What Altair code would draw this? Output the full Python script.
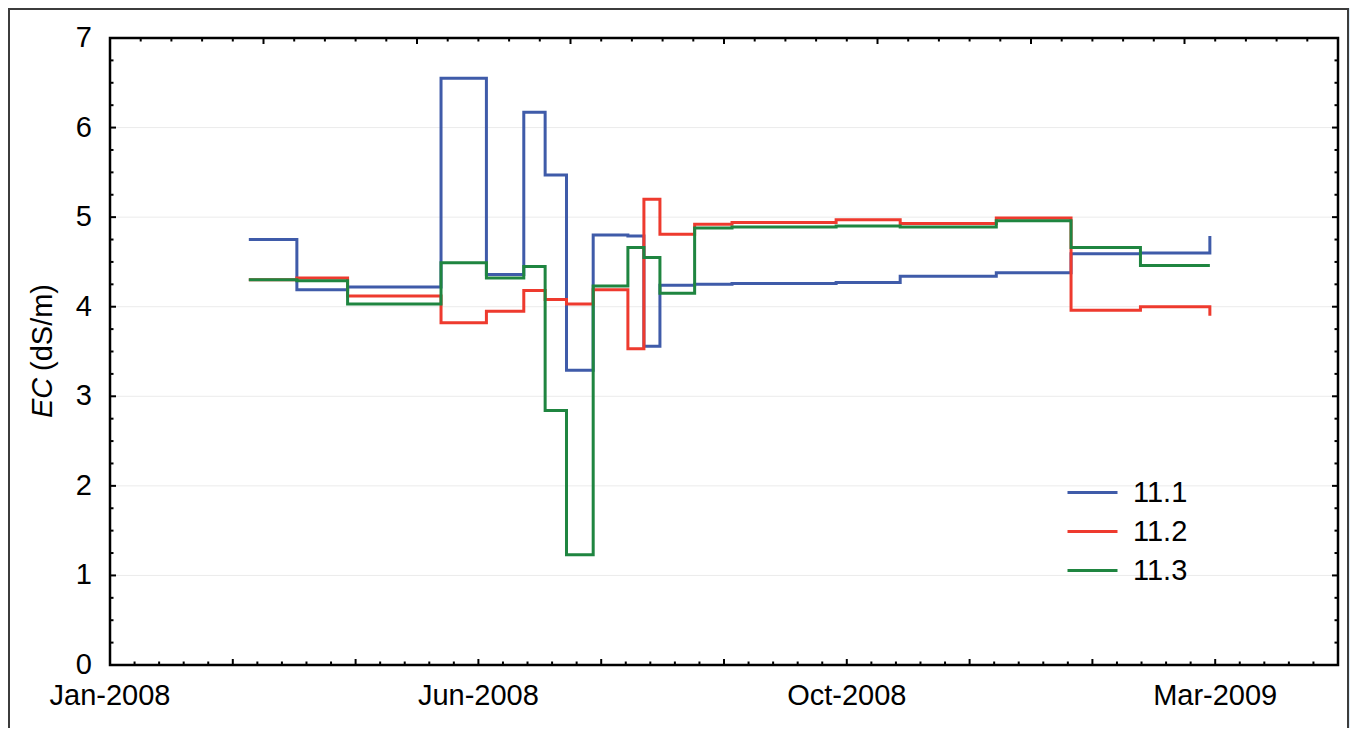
import altair as alt
import pandas as pd
import numpy as np

# ---- data ----
dates = ["2008-03-07", "2008-03-25", "2008-04-13", "2008-05-18", "2008-06-04",
         "2008-06-18", "2008-06-26", "2008-07-04", "2008-07-14", "2008-07-27",
         "2008-08-02", "2008-08-08", "2008-08-21", "2008-09-04", "2008-10-13",
         "2008-11-06", "2008-12-12", "2009-01-09", "2009-02-04", "2009-03-02"]
ec_11_1 = [4.75, 4.19, 4.22, 6.55, 4.36, 6.17, 5.47, 3.29, 4.80, 4.79,
           3.56, 4.24, 4.25, 4.26, 4.27, 4.34, 4.38, 4.59, 4.60, 4.79]
ec_11_2 = [4.30, 4.32, 4.12, 3.82, 3.95, 4.18, 4.08, 4.03, 4.19, 3.53,
           5.20, 4.81, 4.92, 4.94, 4.97, 4.93, 4.99, 3.96, 4.00, 3.90]
ec_11_3 = [4.30, 4.29, 4.03, 4.49, 4.32, 4.45, 2.84, 1.23, 4.23, 4.66,
           4.55, 4.15, 4.88, 4.89, 4.90, 4.89, 4.96, 4.66, 4.46, 4.46]
series = ["11.1", "11.2", "11.3"]
colors = ["#3f5ba9", "#ee3a2e", "#1f8540"]
y_title_italic = "EC"
y_title_rest = "(dS/m)"

# ---- axis structure ----
DAY = 86400000
d0 = int(pd.Timestamp("2008-01-15").value // 10**6)
major_x = 46 * DAY            # 10 major intervals on the bottom axis
d1 = d0 + 10 * major_x
label_vals = [d0 + k * major_x for k in (0, 3, 6, 9)]
bot_major = [d0 + k * major_x for k in range(11)]
bot_minor = [d0 + k * major_x / 5 for k in range(51) if k % 5]
top_step = (d1 - d0) / 8
top_major = [d0 + k * top_step for k in range(9)]
top_minor = [d0 + k * top_step / 5 for k in range(41) if k % 5]
y_major = list(range(8))
y_minor = [v / 4 for v in range(29) if v % 4]

W, H = 1228, 627
FONT = "Liberation Sans"
FS = 29

rows = []
for name, vals in zip(series, [ec_11_1, ec_11_2, ec_11_3]):
    for d, v in zip(dates, vals):
        rows.append({"date": d, "ec": v, "series": name})
df = pd.DataFrame(rows)

xs = alt.Scale(type="utc", domain=[d0, d1], nice=False)
ys = alt.Scale(domain=[0, 7], nice=False, zero=False)

one = pd.DataFrame({"a": [0]})

panel = alt.Chart(one).mark_rect(fill="white", stroke="#3c3c3c", strokeWidth=2).encode(
    x=alt.value(-101), x2=alt.value(1238), y=alt.value(-29), y2=alt.value(720))

grid = alt.Chart(pd.DataFrame({"v": list(range(1, 7))})).mark_rule(
    color="#ebebeb", strokeWidth=1).encode(
    y=alt.Y("v:Q", scale=ys, axis=None), x=alt.value(0), x2=alt.value(W))

lines = alt.Chart(df).mark_line(interpolate="step-after", strokeWidth=3).encode(
    x=alt.X("date:T", scale=xs, axis=None),
    y=alt.Y("ec:Q", scale=ys, axis=None),
    color=alt.Color("series:N", scale=alt.Scale(domain=series, range=colors),
                    legend=alt.Legend(title=None, orient="none", legendX=968, legendY=440,
                                      symbolType="M-2,0H2", symbolSize=625,
                                      symbolStrokeWidth=3, labelFontSize=FS,
                                      labelFont=FONT, labelColor="black",
                                      rowPadding=9, labelOffset=26, padding=0,
                                      zindex=1)),
)

# tick labels, placed through the scales
xlab = alt.Chart(pd.DataFrame({"t": label_vals})).mark_text(
    fontSize=FS, font=FONT, color="black", align="center", baseline="top").encode(
    x=alt.X("t:T", scale=xs, axis=None),
    text=alt.Text("t:T", format="%b-%Y"),
    y=alt.value(H + 17))
ylab = alt.Chart(pd.DataFrame({"v": y_major})).mark_text(
    fontSize=FS, font=FONT, color="black", align="right", baseline="middle").encode(
    y=alt.Y("v:Q", scale=ys, axis=None),
    text=alt.Text("v:Q", format="d"),
    x=alt.value(-18))


def xticks(vals, top, length):
    d = pd.DataFrame({"t": vals})
    y = alt.value(0) if top else alt.value(H)
    y2 = alt.value(length) if top else alt.value(H - length)
    return alt.Chart(d).mark_rule(color="black", strokeWidth=2).encode(
        x=alt.X("t:T", scale=xs, axis=None), y=y, y2=y2)


def yticks(vals, right, length):
    d = pd.DataFrame({"v": vals})
    x = alt.value(W) if right else alt.value(0)
    x2 = alt.value(W - length) if right else alt.value(length)
    return alt.Chart(d).mark_rule(color="black", strokeWidth=2).encode(
        y=alt.Y("v:Q", scale=ys, axis=None), x=x, x2=x2)


ticks = [xticks(bot_major, False, 6), xticks(bot_minor, False, 3.5),
         xticks(top_major, True, 6), xticks(top_minor, True, 3.5),
         yticks(y_major, False, 6), yticks(y_minor, False, 3.5),
         yticks(y_major, True, 6), yticks(y_minor, True, 3.5)]

border = alt.Chart(one).mark_rect(fill="transparent", stroke="black", strokeWidth=2.5).encode(
    x=alt.value(0), x2=alt.value(W), y=alt.value(0), y2=alt.value(H))

t1 = alt.Chart(one).mark_text(text=y_title_italic, angle=270, align="left",
                              baseline="alphabetic", fontSize=FS, fontStyle="italic",
                              font=FONT, color="black").encode(
    x=alt.value(-58), y=alt.value(380))
t2 = alt.Chart(one).mark_text(text=y_title_rest, angle=270, align="left",
                              baseline="alphabetic", fontSize=FS,
                              font=FONT, color="black").encode(
    x=alt.value(-58), y=alt.value(333))

chart = alt.layer(panel, grid, lines, *ticks, border, xlab, ylab, t1, t2).properties(
    width=W, height=H,
    autosize=alt.AutoSizeParams(type="none"),
    padding={"left": 102, "top": 30, "right": 12, "bottom": 63},
    background="#dcebf8",
).configure(font=FONT).configure_view(stroke=None)

chart.save("out.html", embed_options={"renderer": "svg", "actions": False})
